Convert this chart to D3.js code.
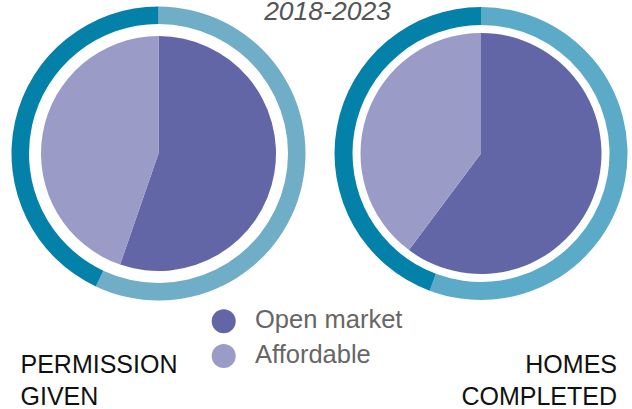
<!DOCTYPE html>
<html><head><meta charset="utf-8">
<script src="https://cdn.jsdelivr.net/npm/d3@7"></script>
<style>body{margin:0;background:#fff}svg{display:block}</style>
</head><body>
<svg id="chart" width="632" height="409"></svg>
<script>
const title = "2018-2023";
const categories = ["Open market", "Affordable"];
const chartNames = [["PERMISSION", "GIVEN"], ["HOMES", "COMPLETED"]];
const pieValues = [[55.3, 44.7], [60.2, 39.8]];
const ringValues = [[57.0, 43.0], [55.7, 44.3]];

const pieColors = ["#6366a6", "#9a9cc7"];
const ringColors = [["#70adc7", "#0481a8"], ["#5babc8", "#0481a8"]];

const layout = [
  {cx: 158.5, cy: 153.5, pieR: 117.5, ringIn: 129.5, ringOut: 147, labelX: 20.5, anchor: "start"},
  {cx: 481, cy: 153.5, pieR: 120.5, ringIn: 128.5, ringOut: 146.5, labelX: 617, anchor: "end"}
];

const svg = d3.select("#chart");
const pie = d3.pie().sort(null).startAngle(0).endAngle(2 * Math.PI);

layout.forEach((L, i) => {
  const g = svg.append("g").attr("transform", `translate(${L.cx},${L.cy})`);
  const ringArc = d3.arc().innerRadius(L.ringIn).outerRadius(L.ringOut);
  g.selectAll("path.ring").data(pie(ringValues[i])).join("path")
    .attr("class", "ring").attr("d", ringArc)
    .attr("fill", (d, j) => ringColors[i][j]);
  const pieArc = d3.arc().innerRadius(0).outerRadius(L.pieR);
  g.selectAll("path.slice").data(pie(pieValues[i])).join("path")
    .attr("class", "slice").attr("d", pieArc)
    .attr("fill", (d, j) => pieColors[j]);

  const t = svg.append("text")
    .attr("x", L.labelX).attr("y", 373.3)
    .attr("text-anchor", L.anchor)
    .attr("font-family", "Liberation Sans, Arial, sans-serif")
    .attr("font-size", 25).attr("fill", "#111");
  chartNames[i].forEach((line, k) => {
    t.append("tspan").attr("x", L.labelX).attr("dy", k === 0 ? 0 : 31.7).text(line);
  });
});

svg.append("text")
  .attr("x", 327.5).attr("y", 20)
  .attr("text-anchor", "middle")
  .attr("font-family", "Liberation Sans, Arial, sans-serif")
  .attr("font-style", "italic")
  .attr("font-size", 26.5).attr("fill", "#555")
  .text(title);

const legend = svg.append("g");
const legY = [321.3, 356];
categories.forEach((c, j) => {
  legend.append("circle").attr("cx", 223.7).attr("cy", legY[j]).attr("r", 12)
    .attr("fill", pieColors[j]);
  legend.append("text").attr("x", 255).attr("y", legY[j] + 6.5)
    .attr("font-family", "Liberation Sans, Arial, sans-serif")
    .attr("font-size", 25.5).attr("fill", "#666")
    .text(c);
});
</script>
</body></html>
